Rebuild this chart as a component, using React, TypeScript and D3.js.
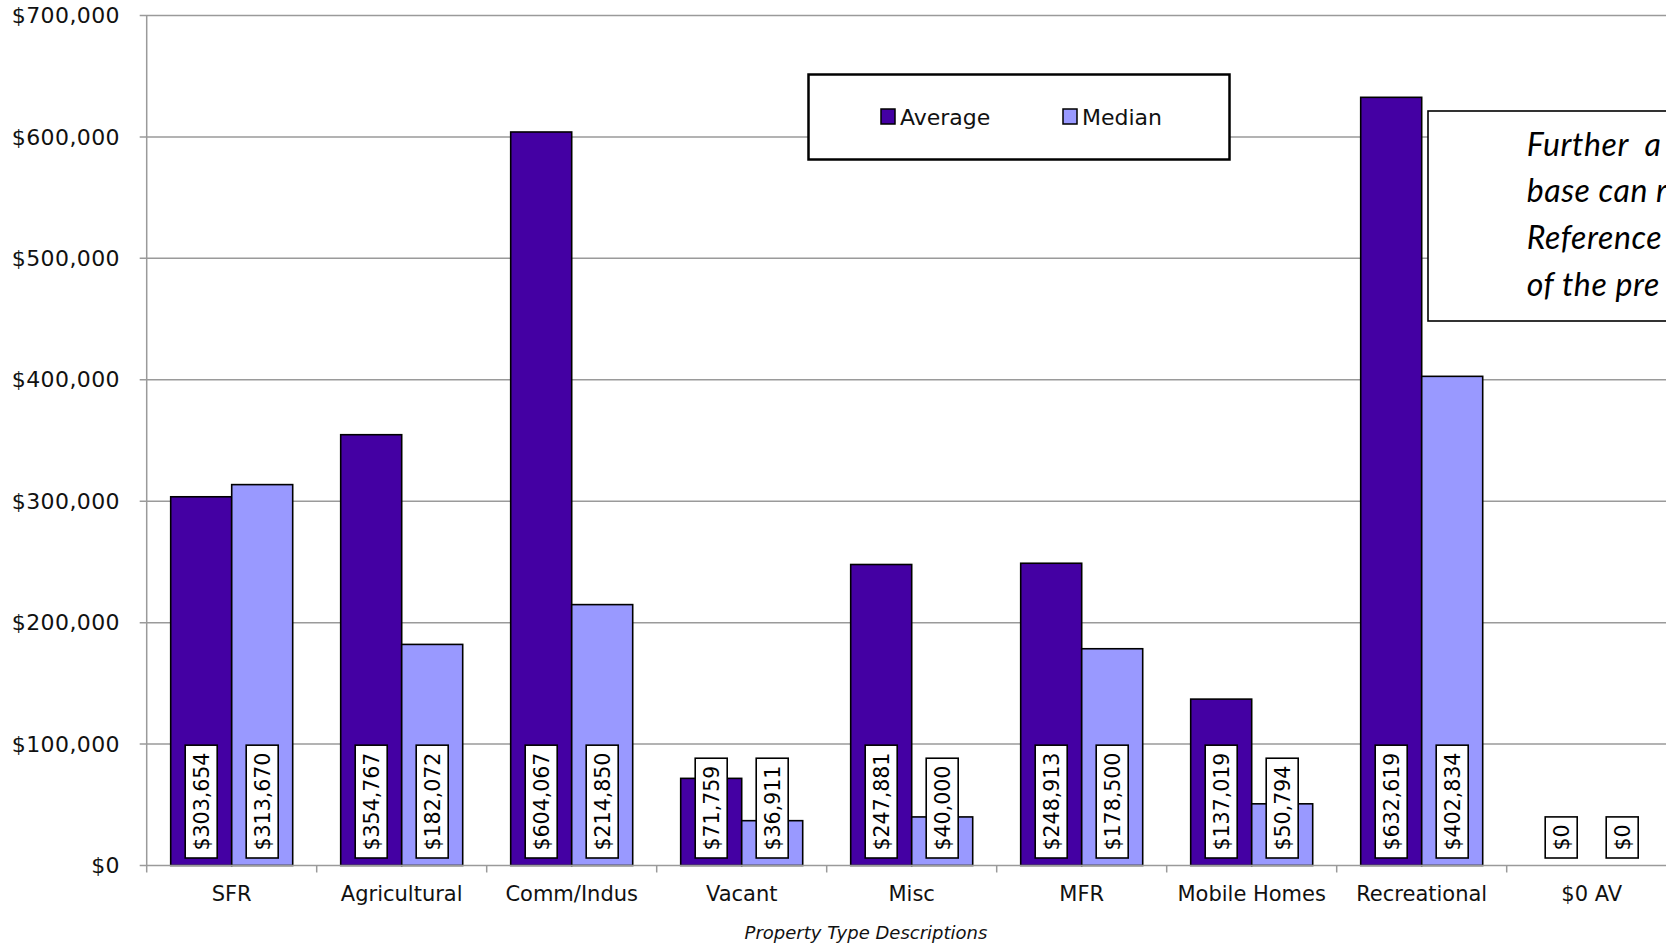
import React, { useEffect, useRef } from "react";
import * as d3 from "d3";

// Property value summary by property type
const categories = [
  "SFR",
  "Agricultural",
  "Comm/Indus",
  "Vacant",
  "Misc",
  "MFR",
  "Mobile Homes",
  "Recreational",
  "$0 AV",
];
const seriesNames = ["Average", "Median"];
const averageValues = [303654, 354767, 604067, 71759, 247881, 248913, 137019, 632619, 0];
const medianValues = [313670, 182072, 214850, 36911, 40000, 178500, 50794, 402834, 0];
const yTicks = [0, 100000, 200000, 300000, 400000, 500000, 600000, 700000];
const noteLines = ["Further a", "base can r", "Reference", "of the pre"];

const W = 1666;
const H = 946;
const FONT = "'DejaVu Sans', Verdana, sans-serif";
const COLORS: Record<string, string> = { Average: "#4400A3", Median: "#9999FF" };

export default function App() {
  const ref = useRef<SVGSVGElement>(null);

  useEffect(() => {
    const svg = d3.select(ref.current);
    svg.selectAll("*").remove();

    const left = 146.7;
    const step = 170;
    const top = 15.5;
    const bottom = 865.5;

    const x0 = d3
      .scaleBand<string>()
      .domain(categories)
      .range([left, left + step * categories.length])
      .paddingInner(48 / 170)
      .paddingOuter(24 / 170);
    const x1 = d3.scaleBand<string>().domain(seriesNames).range([0, x0.bandwidth()]);
    const y = d3.scaleLinear().domain([0, 700000]).range([bottom, top]);
    const fmt = d3.format("$,.0f");

    svg.append("rect").attr("width", W).attr("height", H).attr("fill", "#fff");

    // gridlines and y ticks
    const g = svg.append("g");
    g.selectAll("line.grid")
      .data(yTicks.slice(1))
      .join("line")
      .attr("x1", left - 7)
      .attr("x2", W)
      .attr("y1", (d) => y(d))
      .attr("y2", (d) => y(d))
      .attr("stroke", "#9a9a9a")
      .attr("stroke-width", 1.5);

    g.selectAll("text.ytick")
      .data(yTicks)
      .join("text")
      .attr("x", 120)
      .attr("y", (d) => y(d))
      .attr("dy", "0.35em")
      .attr("text-anchor", "end")
      .attr("font-family", FONT)
      .attr("font-size", 22)
      .attr("letter-spacing", 0.4)
      .attr("fill", "#111")
      .text((d) => fmt(d));

    // bars
    const groups = svg
      .append("g")
      .selectAll("g")
      .data(categories.map((c, i) => ({ c, vals: [averageValues[i], medianValues[i]] })))
      .join("g")
      .attr("transform", (d) => `translate(${x0(d.c)},0)`);

    groups
      .selectAll("rect")
      .data((d) => d.vals.map((v, j) => ({ s: seriesNames[j], v })))
      .join("rect")
      .filter((d) => d.v > 0)
      .attr("x", (d) => x1(d.s)!)
      .attr("width", x1.bandwidth())
      .attr("y", (d) => y(d.v))
      .attr("height", (d) => y(0) - y(d.v))
      .attr("fill", (d) => COLORS[d.s])
      .attr("stroke", "#000")
      .attr("stroke-width", 1.6);

    // axes lines
    svg
      .append("line")
      .attr("x1", left)
      .attr("x2", left)
      .attr("y1", top)
      .attr("y2", bottom)
      .attr("stroke", "#9a9a9a")
      .attr("stroke-width", 1.5);
    svg
      .append("line")
      .attr("x1", left - 7)
      .attr("x2", W)
      .attr("y1", bottom)
      .attr("y2", bottom)
      .attr("stroke", "#9a9a9a")
      .attr("stroke-width", 1.5);
    svg
      .append("g")
      .selectAll("line")
      .data(d3.range(categories.length + 1))
      .join("line")
      .attr("x1", (i) => left + i * step)
      .attr("x2", (i) => left + i * step)
      .attr("y1", bottom)
      .attr("y2", bottom + 7)
      .attr("stroke", "#9a9a9a")
      .attr("stroke-width", 1.5);

    // value labels (rotated, in white boxes)
    const labelSel = groups
      .selectAll("g.lbl")
      .data((d) => d.vals.map((v, j) => ({ s: seriesNames[j], v })))
      .join("g")
      .attr("class", "lbl");
    labelSel.each(function (d) {
      const lg = d3.select(this);
      const cx = x1(d.s)! + x1.bandwidth() / 2;
      const boxBottom = bottom - 7.5;
      const rect = lg.append("rect");
      const t = lg
        .append("text")
        .attr("font-family", FONT)
        .attr("font-size", 20.5)
        .attr("fill", "#000")
        .attr("text-anchor", "middle")
        .attr("dominant-baseline", "central")
        .text(fmt(d.v));
      const len = (t.node() as SVGTextElement).getComputedTextLength();
      const h = len + 15;
      const w = 32;
      rect
        .attr("x", cx - w / 2)
        .attr("y", boxBottom - h)
        .attr("width", w)
        .attr("height", h)
        .attr("fill", "#fff")
        .attr("stroke", "#000")
        .attr("stroke-width", 1.6);
      t.attr("transform", `translate(${cx + 0.5},${boxBottom - h / 2}) rotate(-90)`);
    });

    // category labels
    svg
      .append("g")
      .selectAll("text")
      .data(categories)
      .join("text")
      .attr("x", (d) => x0(d)! + x0.bandwidth() / 2)
      .attr("y", 901)
      .attr("text-anchor", "middle")
      .attr("font-family", FONT)
      .attr("font-size", 21)
      .attr("fill", "#111")
      .text((d) => d);

    // x axis title
    svg
      .append("text")
      .attr("x", 866)
      .attr("y", 939)
      .attr("text-anchor", "middle")
      .attr("font-family", FONT)
      .attr("font-style", "italic")
      .attr("font-size", 18)
      .attr("fill", "#111")
      .text("Property Type Descriptions");

    // legend
    const lg = svg.append("g");
    lg.append("rect")
      .attr("x", 808.5)
      .attr("y", 74.5)
      .attr("width", 421)
      .attr("height", 85)
      .attr("fill", "#fff")
      .attr("stroke", "#000")
      .attr("stroke-width", 2.5);
    const legendX = [881, 1063];
    seriesNames.forEach((s, i) => {
      lg.append("rect")
        .attr("x", legendX[i])
        .attr("y", 109)
        .attr("width", 14)
        .attr("height", 15)
        .attr("fill", COLORS[s])
        .attr("stroke", "#000")
        .attr("stroke-width", 1.5);
      lg.append("text")
        .attr("x", legendX[i] + 19)
        .attr("y", 124.5)
        .attr("font-family", FONT)
        .attr("font-size", 22)
        .attr("fill", "#111")
        .text(s);
    });

    // note box (runs past the right edge of the chart)
    const nb = svg.append("g");
    nb.append("rect")
      .attr("x", 1428)
      .attr("y", 111)
      .attr("width", 300)
      .attr("height", 210)
      .attr("fill", "#fff")
      .attr("stroke", "#000")
      .attr("stroke-width", 1.6);
    noteLines.forEach((line, i) => {
      nb.append("text")
        .attr("x", 1526.7)
        .attr("y", 155.5 + i * 46.7)
        .attr("font-family", "Lato, 'Open Sans', sans-serif")
        .attr("font-style", "italic")
        .attr("font-size", 32)
        .attr("letter-spacing", 0.6)
        .attr("word-spacing", i === 0 ? 8 : 0)
        .attr("fill", "#000")
        .text(line);
    });
  }, []);

  return (
    <svg
      ref={ref}
      width={W}
      height={H}
      style={{ position: "absolute", left: 0, top: 0, display: "block" }}
    />
  );
}
